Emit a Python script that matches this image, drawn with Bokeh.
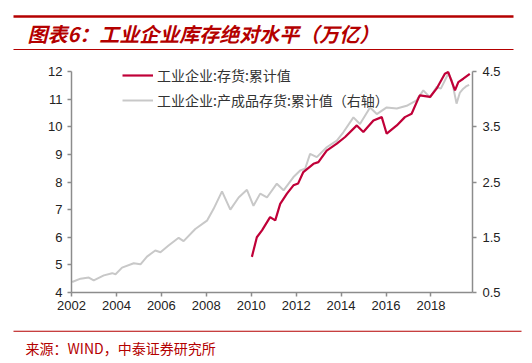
from bokeh.plotting import figure
from bokeh.layouts import column
from bokeh.models import (Range1d, LinearAxis, FixedTicker, Legend, LegendItem,
                          Label, BoxAnnotation)
from bokeh.embed import file_html
from bokeh.resources import INLINE

# ---- data ----
inv_year = [2010.03, 2010.25, 2010.48, 2010.84, 2011.07, 2011.29, 2011.59, 2011.88,
            2012.09, 2012.32, 2012.77, 2012.99, 2013.36, 2013.81, 2014.18, 2014.70,
            2014.99, 2015.44, 2015.81, 2016.03, 2016.48, 2016.84, 2017.14, 2017.44,
            2017.51, 2017.96, 2018.25, 2018.62, 2018.77, 2019.07, 2019.22, 2019.44,
            2019.73]
inv_val = [5.29, 6.00, 6.25, 6.73, 6.61, 7.21, 7.58, 7.88,
           7.95, 8.36, 8.66, 8.72, 9.14, 9.39, 9.63, 10.05,
           9.81, 10.23, 10.35, 9.75, 10.05, 10.35, 10.47, 11.03,
           11.14, 11.08, 11.38, 11.92, 11.98, 11.32, 11.62, 11.74,
           11.92]

fin_year = [2002.03, 2002.40, 2002.77, 2002.99, 2003.44, 2003.81, 2003.96, 2004.25,
            2004.77, 2005.07, 2005.36, 2005.73, 2005.96, 2006.32, 2006.77, 2006.99,
            2007.51, 2008.03, 2008.32, 2008.70, 2009.07, 2009.44, 2009.81, 2010.10,
            2010.40, 2010.70, 2011.14, 2011.44, 2011.88, 2012.18, 2012.40, 2012.62,
            2012.92, 2013.36, 2013.81, 2014.10, 2014.55, 2014.84, 2015.29, 2015.59,
            2016.03, 2016.48, 2016.92, 2017.36, 2017.66, 2017.96, 2018.25, 2018.44,
            2018.77, 2018.93, 2019.14, 2019.29, 2019.44, 2019.56, 2019.70]
fin_val = [0.69, 0.75, 0.77, 0.72, 0.81, 0.85, 0.83, 0.95,
           1.03, 1.01, 1.15, 1.26, 1.23, 1.35, 1.49, 1.43,
           1.65, 1.80, 2.01, 2.33, 2.00, 2.22, 2.36, 2.07,
           2.29, 2.22, 2.47, 2.35, 2.59, 2.71, 2.74, 3.01,
           2.95, 3.13, 3.25, 3.40, 3.67, 3.55, 3.85, 3.73,
           3.85, 3.83, 3.88, 3.98, 4.16, 4.03, 4.22, 4.19,
           4.46, 4.34, 3.92, 4.12, 4.19, 4.23, 4.26]

x_ticks = [2002, 2004, 2006, 2008, 2010, 2012, 2014, 2016, 2018]
left_ticks = [4, 5, 6, 7, 8, 9, 10, 11, 12]
right_ticks = [0.5, 1.5, 2.5, 3.5, 4.5]

title_text = "图表6：工业企业库存绝对水平（万亿）"
source_text = "来源：WIND，中泰证券研究所"
name_inv = "工业企业:存货:累计值"
name_fin = "工业企业:产成品存货:累计值（右轴）"

RED = "#C00038"
GREY = "#C8C8C8"
TITLE_RED = "#B40000"
AXIS = "#8C8C8C"

W = 532
HEAD_H, CHART_H, FOOT_H = 55, 267, 41
CHART_TOP = HEAD_H
FL, FR, FB = 71, 472, 292           # frame edges in page pixels
PX_PER_UNIT = (292 - 71) / 8.0      # left axis: 4..12 spans 71..292
EXTRA = 0.4                          # headroom above 12 (axis line stops at 12)
FT = FB - (8 + EXTRA) * PX_PER_UNIT


def blank(height):
    f = figure(width=W, height=height, output_backend="svg", toolbar_location=None,
               x_range=Range1d(0, W), y_range=Range1d(height, 0),
               min_border=0, min_border_left=0, min_border_right=0,
               min_border_top=0, min_border_bottom=0)
    f.axis.visible = False
    f.grid.visible = False
    f.outline_line_color = None
    f.frame_align = False
    return f


def hline(f, x0, x1, yc, thick):
    f.add_layout(BoxAnnotation(left=x0, right=x1, top=yc - thick / 2,
                               bottom=yc + thick / 2, fill_color=TITLE_RED,
                               fill_alpha=1, line_color=None))


# ---- header ----
head = blank(HEAD_H)
hline(head, 13, 513, 16, 2.5)
hline(head, 13, 513, 49, 1)
head.add_layout(Label(x=27, y=33, text=title_text, text_font="Noto Sans CJK SC",
                      text_font_size="20px", text_font_style="bold italic",
                      text_color=TITLE_RED, text_baseline="middle"))

# ---- chart ----
p = figure(width=W, height=CHART_H, output_backend="svg", toolbar_location=None,
           x_range=Range1d(2002, 2019.85), y_range=Range1d(4, 12 + EXTRA),
           min_border_left=FL, min_border_right=W - FR,
           min_border_top=int(round(FT - CHART_TOP)),
           min_border_bottom=CHART_TOP + CHART_H - FB)
p.frame_align = False
p.outline_line_color = None
p.xgrid.visible = False
p.ygrid.visible = False
p.extra_y_ranges = {"right": Range1d(0.5, 4.5 + EXTRA / 2)}


def style(ax):
    ax.axis_line_color = AXIS
    ax.axis_line_width = 1.5
    ax.major_tick_line_color = AXIS
    ax.major_tick_line_width = 1.5
    ax.major_tick_out = 4
    ax.major_tick_in = 0
    ax.minor_tick_line_color = None
    ax.major_label_text_font = "Liberation Sans"
    ax.major_label_text_font_size = "13px"
    ax.major_label_text_color = "#222222"


style(p.xaxis[0])
style(p.yaxis[0])
p.xaxis.ticker = FixedTicker(ticks=x_ticks)
p.yaxis.ticker = FixedTicker(ticks=left_ticks)
p.yaxis.bounds = (4, 12)
p.xaxis.major_label_standoff = 4
p.yaxis.major_label_standoff = 5

rax = LinearAxis(y_range_name="right", ticker=FixedTicker(ticks=right_ticks),
                 bounds=(0.5, 4.5))
style(rax)
rax.major_label_standoff = 6
p.add_layout(rax, "right")

g = p.line(fin_year, fin_val, y_range_name="right", line_color=GREY, line_width=2)
r = p.line(inv_year, inv_val, line_color=RED, line_width=2.2)

legend = Legend(items=[LegendItem(label=name_inv, renderers=[r]),
                       LegendItem(label=name_fin, renderers=[g])],
                location=(122 - FL, FB - 110), orientation="vertical",
                background_fill_alpha=0, border_line_color=None,
                glyph_width=31, glyph_height=20, label_standoff=4,
                spacing=5, padding=0, margin=0,
                label_text_font="Noto Sans CJK SC", label_text_font_size="14px",
                label_text_color="#333333")
p.add_layout(legend, "center")

# ---- footer ----
foot = blank(FOOT_H)
hline(foot, 13, 521, 330.7 - (HEAD_H + CHART_H), 1)
foot.add_layout(Label(x=25, y=347 - (HEAD_H + CHART_H), text=source_text,
                      text_font="Noto Sans CJK SC", text_font_size="14px",
                      text_color=TITLE_RED, text_baseline="middle"))

layout = column(head, p, foot, spacing=0)
open("out.html", "w").write(file_html(layout, INLINE))
